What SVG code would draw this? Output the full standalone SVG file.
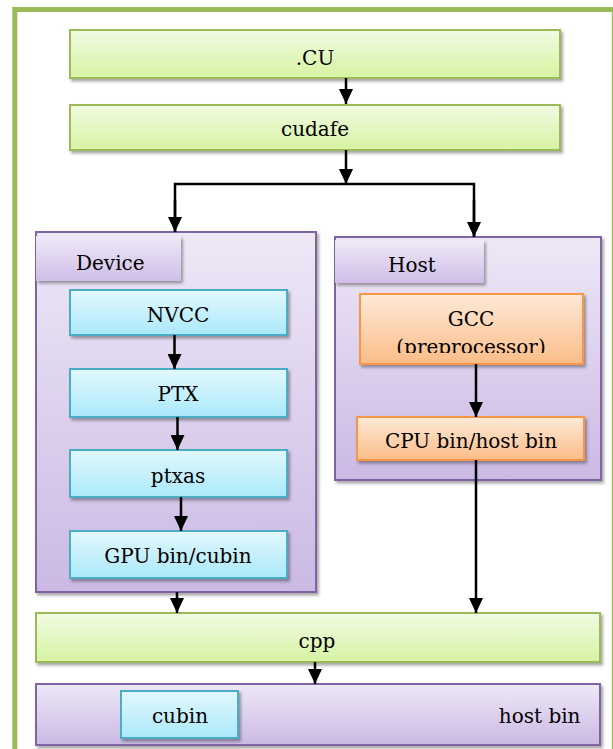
<svg xmlns="http://www.w3.org/2000/svg" width="613" height="749" viewBox="0 0 613 749">
<defs>
<linearGradient id="gGreen" x1="0" y1="0" x2="0" y2="1"><stop offset="0" stop-color="#f1fbe3"/><stop offset="1" stop-color="#d6f3a2"/></linearGradient>
<linearGradient id="gPurple" x1="0" y1="0" x2="0" y2="1"><stop offset="0" stop-color="#eee8f6"/><stop offset="1" stop-color="#cbb9e4"/></linearGradient>
<linearGradient id="gTab" x1="0" y1="0" x2="0" y2="1"><stop offset="0" stop-color="#efe9f7"/><stop offset="1" stop-color="#cfbee7"/></linearGradient>
<linearGradient id="gCyan" x1="0" y1="0" x2="0" y2="1"><stop offset="0" stop-color="#e2f8fd"/><stop offset="1" stop-color="#abe9fb"/></linearGradient>
<linearGradient id="gOrange" x1="0" y1="0" x2="0" y2="1"><stop offset="0" stop-color="#fee9d8"/><stop offset="1" stop-color="#fbbd88"/></linearGradient>
<filter id="sh" x="-10%" y="-10%" width="130%" height="140%"><feDropShadow dx="2" dy="2.5" stdDeviation="1.8" flood-color="#000" flood-opacity="0.35"/></filter>
<marker id="ah" markerUnits="userSpaceOnUse" markerWidth="15" markerHeight="14" refX="15" refY="7" orient="auto"><path d="M0,0 L15,7 L0,14 z" fill="#000"/></marker>
<clipPath id="gccClip"><rect x="360" y="294" width="223" height="59"/></clipPath>
</defs>
<style>
.t{font-family:'DejaVu Serif','Liberation Serif',serif;font-size:20px;fill:#000;text-anchor:middle}
.s{text-anchor:start}
.e{text-anchor:end}
.green{fill:url(#gGreen);stroke:#9bbb59;stroke-width:2}
.purple{fill:url(#gPurple);stroke:#8064a2;stroke-width:2}
.tab{fill:url(#gTab);stroke:none}
.cyan{fill:url(#gCyan);stroke:#4bacc6;stroke-width:2}
.orange{fill:url(#gOrange);stroke:#f79646;stroke-width:2}
.c{stroke:#000;stroke-width:2.5;fill:none}
</style>
<rect width="613" height="749" fill="#fff"/>
<rect id="frame" x="14.8" y="9.5" width="599.5" height="800" fill="none" stroke="#9bbb59" stroke-width="5"/>

<g id="cu"><rect class="green" x="70" y="30" width="490" height="48" filter="url(#sh)"/><text class="t" x="315" y="65">.CU</text></g>
<g id="cudafe"><rect class="green" x="70" y="105" width="490" height="45" filter="url(#sh)"/><text class="t" x="315" y="136">cudafe</text></g>

<g id="device"><rect class="purple" x="36" y="232" width="280" height="360" filter="url(#sh)"/>
<rect class="tab" x="36" y="236" width="145" height="45" filter="url(#sh)"/>
<text class="t s" x="76" y="269.5">Device</text></g>
<g id="host"><rect class="purple" x="335" y="237" width="266" height="243" filter="url(#sh)"/>
<rect class="tab" x="335" y="240" width="149" height="43" filter="url(#sh)"/>
<text class="t s" x="388" y="271.7">Host</text></g>

<g id="nvcc"><rect class="cyan" x="70" y="290" width="217" height="45" filter="url(#sh)"/><text class="t" x="178" y="321.7">NVCC</text></g>
<g id="ptx"><rect class="cyan" x="70" y="369" width="217" height="48" filter="url(#sh)"/><text class="t" x="178" y="401">PTX</text></g>
<g id="ptxas"><rect class="cyan" x="70" y="450" width="217" height="47" filter="url(#sh)"/><text class="t" x="178" y="483">ptxas</text></g>
<g id="gpubin"><rect class="cyan" x="70" y="531" width="217" height="47" filter="url(#sh)"/><text class="t" x="178" y="563">GPU bin/cubin</text></g>

<g id="gcc"><rect class="orange" x="360" y="294" width="223" height="70" filter="url(#sh)"/><text class="t" x="471" y="326">GCC</text><text class="t" x="471" y="354" clip-path="url(#gccClip)">(preprocessor)</text></g>
<g id="cpubin"><rect class="orange" x="357" y="417" width="227" height="43" filter="url(#sh)"/><text class="t" x="471" y="447.7">CPU bin/host bin</text></g>

<g id="cpp"><rect class="green" x="36" y="613" width="564" height="49" filter="url(#sh)"/><text class="t" x="317" y="648.3">cpp</text></g>
<g id="hostbin"><rect class="purple" x="36" y="684" width="564" height="61" filter="url(#sh)"/>
<text class="t e" x="580.5" y="723.3">host bin</text></g>
<g id="cubin"><rect class="cyan" x="121" y="691" width="117" height="47" filter="url(#sh)"/><text class="t" x="180" y="722.7">cubin</text></g>

<g id="connectors">
<line class="c" x1="346" y1="78" x2="346" y2="104" marker-end="url(#ah)"/>
<line class="c" x1="346" y1="150" x2="346" y2="184" marker-end="url(#ah)"/>
<polyline class="c" points="175,232 175,184 474,184 474,237"/>
<line class="c" x1="175" y1="200" x2="175" y2="232" marker-end="url(#ah)"/>
<line class="c" x1="474" y1="200" x2="474" y2="237" marker-end="url(#ah)"/>
<line class="c" x1="174.5" y1="335" x2="174.5" y2="369" marker-end="url(#ah)"/>
<line class="c" x1="177.5" y1="417" x2="177.5" y2="450" marker-end="url(#ah)"/>
<line class="c" x1="181" y1="497" x2="181" y2="531" marker-end="url(#ah)"/>
<line class="c" x1="177" y1="592" x2="177" y2="613" marker-end="url(#ah)"/>
<line class="c" x1="476" y1="460" x2="476" y2="613" marker-end="url(#ah)"/>
<line class="c" x1="476" y1="364" x2="476" y2="417" marker-end="url(#ah)"/>
<line class="c" x1="315" y1="662" x2="315" y2="684" marker-end="url(#ah)"/>
</g>
</svg>
